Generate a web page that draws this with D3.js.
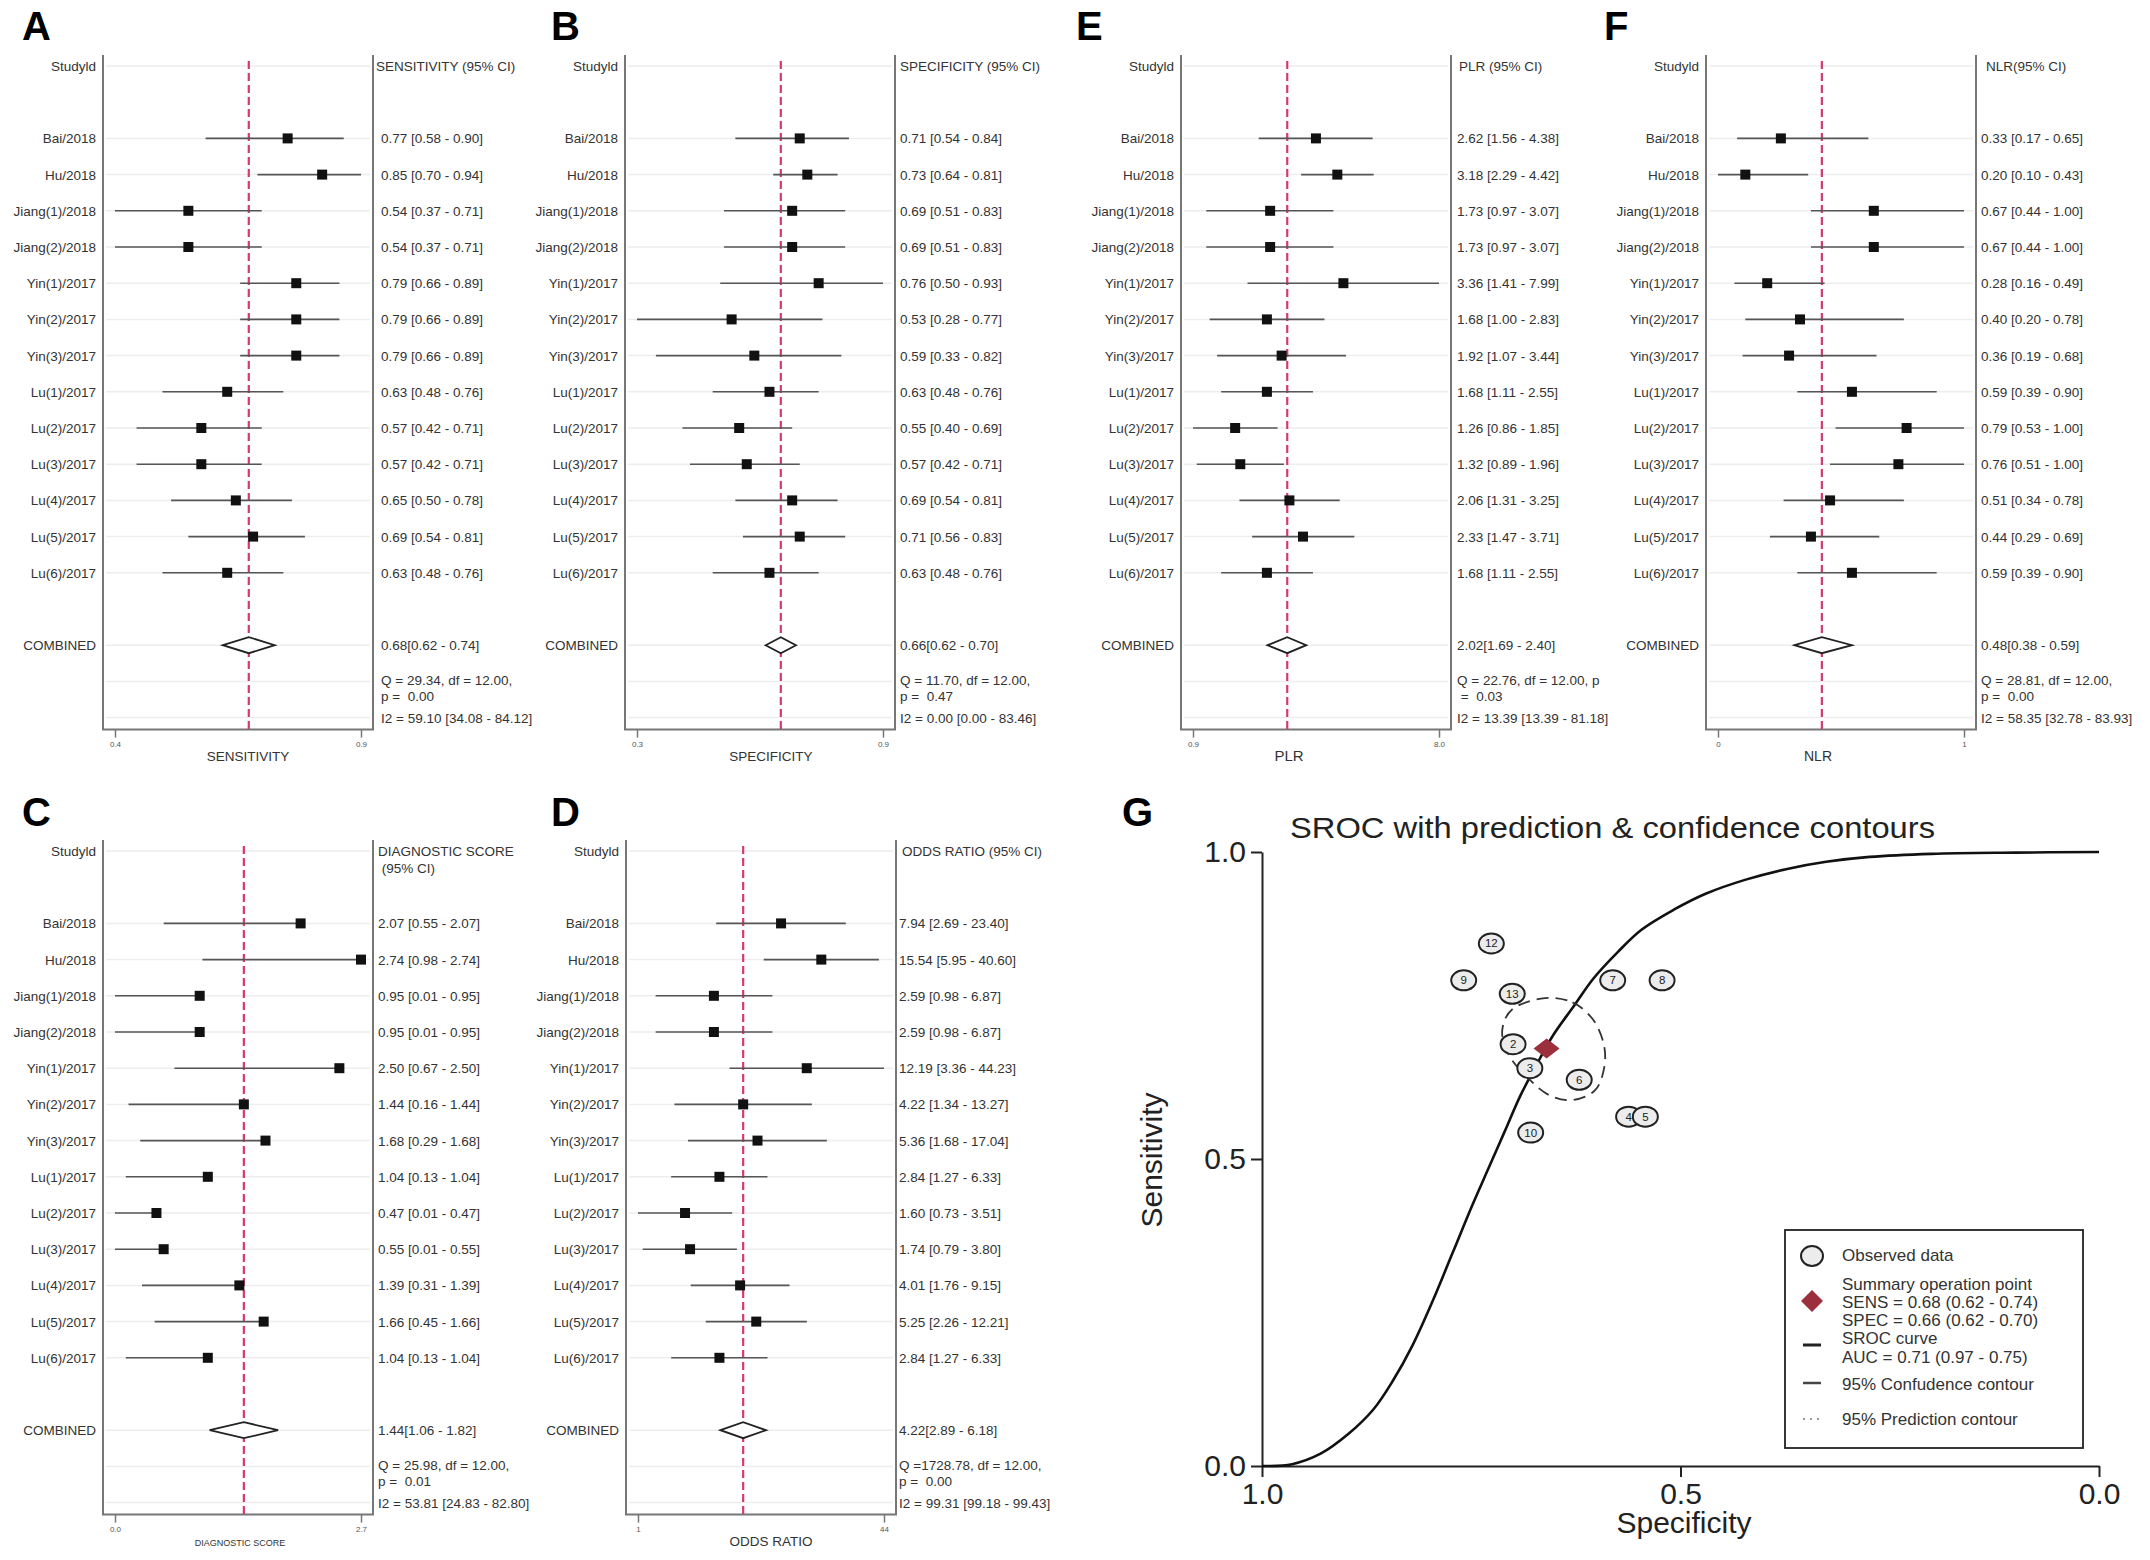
<!DOCTYPE html>
<html>
<head>
<meta charset="utf-8">
<script src="https://cdn.jsdelivr.net/npm/d3@7"></script>
<style>
body { margin: 0; background: #fff; }
svg text { font-family: Arial, "Liberation Sans", sans-serif; }
.narrow { font-family: "Liberation Sans Narrow", "Arial Narrow", Arial, sans-serif; }
</style>
</head>
<body>
<div id="chart"></div>
<script>
// study names, same order in every forest plot
const studies = ['Bai/2018', 'Hu/2018', 'Jiang(1)/2018', 'Jiang(2)/2018', 'Yin(1)/2017', 'Yin(2)/2017',
    'Yin(3)/2017', 'Lu(1)/2017', 'Lu(2)/2017', 'Lu(3)/2017', 'Lu(4)/2017', 'Lu(5)/2017', 'Lu(6)/2017']

// [estimate, lower, upper]
const sensitivity = [[0.77, 0.58, 0.90], [0.85, 0.70, 0.94], [0.54, 0.37, 0.71], [0.54, 0.37, 0.71],
    [0.79, 0.66, 0.89], [0.79, 0.66, 0.89], [0.79, 0.66, 0.89], [0.63, 0.48, 0.76], [0.57, 0.42, 0.71],
    [0.57, 0.42, 0.71], [0.65, 0.50, 0.78], [0.69, 0.54, 0.81], [0.63, 0.48, 0.76]]
const sensitivityPooled = [0.68, 0.62, 0.74]
const sensitivityStats = ['Q = 29.34, df = 12.00,', 'p =  0.00', 'I2 = 59.10 [34.08 - 84.12]']

const specificity = [[0.71, 0.54, 0.84], [0.73, 0.64, 0.81], [0.69, 0.51, 0.83], [0.69, 0.51, 0.83],
    [0.76, 0.50, 0.93], [0.53, 0.28, 0.77], [0.59, 0.33, 0.82], [0.63, 0.48, 0.76], [0.55, 0.40, 0.69],
    [0.57, 0.42, 0.71], [0.69, 0.54, 0.81], [0.71, 0.56, 0.83], [0.63, 0.48, 0.76]]
const specificityPooled = [0.66, 0.62, 0.70]
const specificityStats = ['Q = 11.70, df = 12.00,', 'p =  0.47', 'I2 = 0.00 [0.00 - 83.46]']

const plr = [[2.62, 1.56, 4.38], [3.18, 2.29, 4.42], [1.73, 0.97, 3.07], [1.73, 0.97, 3.07],
    [3.36, 1.41, 7.99], [1.68, 1.00, 2.83], [1.92, 1.07, 3.44], [1.68, 1.11, 2.55], [1.26, 0.86, 1.85],
    [1.32, 0.89, 1.96], [2.06, 1.31, 3.25], [2.33, 1.47, 3.71], [1.68, 1.11, 2.55]]
const plrPooled = [2.02, 1.69, 2.40]
const plrStats = ['Q = 22.76, df = 12.00, p', ' =  0.03', 'I2 = 13.39 [13.39 - 81.18]']

const nlr = [[0.33, 0.17, 0.65], [0.20, 0.10, 0.43], [0.67, 0.44, 1.00], [0.67, 0.44, 1.00],
    [0.28, 0.16, 0.49], [0.40, 0.20, 0.78], [0.36, 0.19, 0.68], [0.59, 0.39, 0.90], [0.79, 0.53, 1.00],
    [0.76, 0.51, 1.00], [0.51, 0.34, 0.78], [0.44, 0.29, 0.69], [0.59, 0.39, 0.90]]
const nlrPooled = [0.48, 0.38, 0.59]
const nlrStats = ['Q = 28.81, df = 12.00,', 'p =  0.00', 'I2 = 58.35 [32.78 - 83.93]']

const diagScore = [[2.07, 0.55, 2.07], [2.74, 0.98, 2.74], [0.95, 0.01, 0.95], [0.95, 0.01, 0.95],
    [2.50, 0.67, 2.50], [1.44, 0.16, 1.44], [1.68, 0.29, 1.68], [1.04, 0.13, 1.04], [0.47, 0.01, 0.47],
    [0.55, 0.01, 0.55], [1.39, 0.31, 1.39], [1.66, 0.45, 1.66], [1.04, 0.13, 1.04]]
const diagScorePooled = [1.44, 1.06, 1.82]
const diagScoreStats = ['Q = 25.98, df = 12.00,', 'p =  0.01', 'I2 = 53.81 [24.83 - 82.80]']

const oddsRatio = [[7.94, 2.69, 23.40], [15.54, 5.95, 40.60], [2.59, 0.98, 6.87], [2.59, 0.98, 6.87],
    [12.19, 3.36, 44.23], [4.22, 1.34, 13.27], [5.36, 1.68, 17.04], [2.84, 1.27, 6.33], [1.60, 0.73, 3.51],
    [1.74, 0.79, 3.80], [4.01, 1.76, 9.15], [5.25, 2.26, 12.21], [2.84, 1.27, 6.33]]
const oddsRatioPooled = [4.22, 2.89, 6.18]
const oddsRatioStats = ['Q =1728.78, df = 12.00,', 'p =  0.00', 'I2 = 99.31 [99.18 - 99.43]']

// SROC panel: curve (specificity, sensitivity)
const srocSpec = [1.0, 0.964, 0.930, 0.897, 0.867, 0.844, 0.820, 0.796, 0.772, 0.748, 0.729, 0.710, 0.691,
    0.671, 0.652, 0.628, 0.604, 0.575, 0.547, 0.508, 0.470, 0.422, 0.374, 0.326, 0.274, 0.20, 0.10, 0.0]
const srocSens = [0.0, 0.003, 0.020, 0.052, 0.092, 0.138, 0.197, 0.269, 0.348, 0.427, 0.486, 0.545, 0.604,
    0.656, 0.702, 0.748, 0.794, 0.837, 0.873, 0.906, 0.932, 0.955, 0.972, 0.984, 0.992, 0.997, 0.999, 1.0]

// observed study points
const obsLabels = ['12', '9', '13', '7', '8', '2', '3', '6', '4', '5', '10']
const obsSpec = [0.726, 0.759, 0.701, 0.581, 0.522, 0.700, 0.680, 0.621, 0.562, 0.542, 0.679]
const obsSens = [0.851, 0.791, 0.769, 0.791, 0.791, 0.687, 0.648, 0.629, 0.569, 0.569, 0.543]

// 95% confidence contour
const contourSpec = [0.662, 0.629, 0.605, 0.592, 0.591, 0.602, 0.629, 0.657, 0.683, 0.705, 0.713, 0.700]
const contourSens = [0.762, 0.755, 0.728, 0.689, 0.650, 0.612, 0.596, 0.604, 0.633, 0.669, 0.709, 0.745]

const summarySpec = 0.66, summarySens = 0.68

const legendText = [['Observed data'],
    ['Summary operation point', 'SENS = 0.68 (0.62 - 0.74)', 'SPEC = 0.66 (0.62 - 0.70)'],
    ['SROC curve', 'AUC = 0.71 (0.97 - 0.75)'],
    ['95% Confudence contour'],
    ['95% Prediction contour']]

// layout
var rowH = 36.2,
    boxW = 270,
    textColor = '#333';

var svg = d3.select('#chart')
    .append('svg')
        .attr('width', 2150)
        .attr('height', 1560);

// panel letters
var letters = [['A', 22, 40], ['B', 551, 40], ['E', 1076, 40], ['F', 1604, 40], ['C', 22, 826], ['D', 551, 826], ['G', 1122, 826]]
svg.selectAll('.letter')
    .data(letters)
    .join('text')
    .attr('x', d => d[1])
    .attr('y', d => d[2])
    .style('font-size', '40px')
    .style('font-weight', 'bold')
    .style('fill', '#000')
    .text(d => d[0]);

function fmtCI(d){
    return d[0].toFixed(2) + ' [' + d[1].toFixed(2) + ' - ' + d[2].toFixed(2) + ']'
}

function drawForest(p){

    var g = svg.append('g'),
        rowY = i => p.top + i * rowH,
        boxTop = p.top - 11,
        axisY = p.top + 18 * rowH + 12,
        lo = d3.min(p.data, d => d[1]),
        hi = d3.max(p.data, d => d[2]),
        valX = p.x0 + boxW + p.valDx;

    var x = (p.log ? d3.scaleLog() : d3.scaleLinear())
        .domain([lo, hi])
        .range([p.x0 + 12, p.x0 + boxW - 12]);

    // faint row lines
    var gridRows = [0].concat(d3.range(2, 15), [16, 17, 18])
    g.selectAll('.grid')
        .data(gridRows)
        .join('line')
        .attr('x1', p.x0 + 3)
        .attr('x2', p.x0 + boxW - 3)
        .attr('y1', d => rowY(d))
        .attr('y2', d => rowY(d))
        .style('stroke', '#ededed')
        .style('stroke-width', 1.5);

    // frame: left, right and bottom
    g.append('path')
        .attr('d', 'M' + p.x0 + ',' + boxTop + 'V' + axisY + 'H' + (p.x0 + boxW) + 'V' + boxTop)
        .style('fill', 'none')
        .style('stroke', '#777')
        .style('stroke-width', 2);

    // x axis ticks at data extremes
    var axis = g.append('g')
        .attr('transform', 'translate(0,' + axisY + ')')
        .call(d3.axisBottom(x)
                .tickValues([lo, hi])
                .tickFormat(d3.format(p.fmt))
                .tickSize(8)
                .tickPadding(4));
    axis.select('.domain').remove();
    axis.selectAll('line').style('stroke', '#777').style('stroke-width', 1.5);
    axis.selectAll('text').style('font-size', '8px').style('fill', '#555').attr('font-family', null);

    // pooled estimate line
    g.append('line')
        .attr('x1', x(p.pooled[0]))
        .attr('x2', x(p.pooled[0]))
        .attr('y1', boxTop + 6)
        .attr('y2', axisY)
        .style('stroke', '#d63a6a')
        .style('stroke-width', 2.2)
        .style('stroke-dasharray', '8,4');

    // confidence intervals
    g.selectAll('.ci')
        .data(p.data)
        .join('line')
        .attr('x1', d => x(d[1]))
        .attr('x2', d => x(d[2]))
        .attr('y1', (d, i) => rowY(i + 2))
        .attr('y2', (d, i) => rowY(i + 2))
        .style('stroke', '#555')
        .style('stroke-width', 1.6);

    // point estimates
    g.selectAll('.pt')
        .data(p.data)
        .join('rect')
        .attr('x', d => x(d[0]) - 5)
        .attr('y', (d, i) => rowY(i + 2) - 5)
        .attr('width', 10)
        .attr('height', 10)
        .style('fill', '#111');

    // pooled diamond
    var cy = rowY(16)
    g.append('path')
        .attr('d', 'M' + x(p.pooled[1]) + ',' + cy + 'L' + x(p.pooled[0]) + ',' + (cy - 8) +
              'L' + x(p.pooled[2]) + ',' + cy + 'L' + x(p.pooled[0]) + ',' + (cy + 8) + 'Z')
        .style('fill', '#fff')
        .style('stroke', '#222')
        .style('stroke-width', 1.8);

    // study labels
    var labels = ['Studyld'].concat(studies)
    g.selectAll('.lab')
        .data(labels)
        .join('text')
        .attr('x', p.x0 - 7)
        .attr('y', (d, i) => rowY(i == 0 ? 0 : i + 1) + 5)
        .attr('text-anchor', 'end')
        .style('font-size', '13.5px')
        .style('fill', textColor)
        .text(d => d);
    g.append('text')
        .attr('x', p.x0 - 7)
        .attr('y', rowY(16) + 5)
        .attr('text-anchor', 'end')
        .style('font-size', '13.5px')
        .style('fill', textColor)
        .text('COMBINED');

    // header
    g.selectAll('.head')
        .data(p.header)
        .join('text')
        .attr('x', p.x0 + boxW + p.headDx)
        .attr('y', (d, i) => rowY(0) + 5 + i * 17)
        .style('font-size', '13.5px')
        .style('fill', textColor)
        .style('white-space', 'pre')
        .text(d => d);

    // estimates as text
    g.selectAll('.val')
        .data(p.data)
        .join('text')
        .attr('x', valX)
        .attr('y', (d, i) => rowY(i + 2) + 5)
        .style('font-size', '13.5px')
        .style('fill', textColor)
        .text(d => fmtCI(d));
    g.append('text')
        .attr('x', valX)
        .attr('y', rowY(16) + 5)
        .style('font-size', '13.5px')
        .style('fill', textColor)
        .text(p.pooled[0].toFixed(2) + '[' + p.pooled[1].toFixed(2) + ' - ' + p.pooled[2].toFixed(2) + ']');

    // heterogeneity
    var statY = [rowY(17) + 4, rowY(17) + 20, rowY(18) + 5]
    g.selectAll('.stat')
        .data(p.stats)
        .join('text')
        .attr('x', valX)
        .attr('y', (d, i) => statY[i])
        .style('font-size', '13.5px')
        .style('fill', textColor)
        .style('white-space', 'pre')
        .text(d => d);

    // axis title
    g.append('text')
        .attr('x', p.x0 + p.titleDx)
        .attr('y', axisY + 31)
        .attr('text-anchor', 'middle')
        .style('font-size', p.titleSize)
        .style('fill', textColor)
        .text(p.title);
}

var topRow = 66, bottomRow = 851;

drawForest({x0: 103, top: topRow, data: sensitivity, pooled: sensitivityPooled, stats: sensitivityStats,
    header: ['SENSITIVITY (95% CI)'], title: 'SENSITIVITY', titleSize: '13.5px', fmt: '.1f', log: false,
    valDx: 8, headDx: 3, titleDx: 145})
drawForest({x0: 625, top: topRow, data: specificity, pooled: specificityPooled, stats: specificityStats,
    header: ['SPECIFICITY (95% CI)'], title: 'SPECIFICITY', titleSize: '13.5px', fmt: '.1f', log: false,
    valDx: 5, headDx: 5, titleDx: 146})
drawForest({x0: 1181, top: topRow, data: plr, pooled: plrPooled, stats: plrStats,
    header: ['PLR (95% CI)'], title: 'PLR', titleSize: '15px', fmt: '.1f', log: true,
    valDx: 6, headDx: 8, titleDx: 108})
drawForest({x0: 1706, top: topRow, data: nlr, pooled: nlrPooled, stats: nlrStats,
    header: ['NLR(95% CI)'], title: 'NLR', titleSize: '14px', fmt: '.0f', log: false,
    valDx: 5, headDx: 10, titleDx: 112})
drawForest({x0: 103, top: bottomRow, data: diagScore, pooled: diagScorePooled, stats: diagScoreStats,
    header: ['DIAGNOSTIC SCORE', ' (95% CI)'], title: 'DIAGNOSTIC SCORE', titleSize: '9px', fmt: '.1f', log: false,
    valDx: 5, headDx: 5, titleDx: 137})
drawForest({x0: 626, top: bottomRow, data: oddsRatio, pooled: oddsRatioPooled, stats: oddsRatioStats,
    header: ['ODDS RATIO (95% CI)'], title: 'ODDS RATIO', titleSize: '13.5px', fmt: '.0f', log: true,
    valDx: 3, headDx: 6, titleDx: 145})

// ---------- panel G: SROC ----------
{
var gx = d3.scaleLinear()
    .domain([1, 0])
    .range([1262, 2099]);
var gy = d3.scaleLinear()
    .domain([0, 1])
    .range([1466, 852]);

var G = svg.append('g')

// title
G.append('text')
    .attr('x', 1290)
    .attr('y', 838)
    .attr('textLength', 645)
    .attr('lengthAdjust', 'spacingAndGlyphs')
    .style('font-size', '29px')
    .style('fill', '#222')
    .text('SROC with prediction & confidence contours')

var yAx = G.append('g')
    .attr('transform', 'translate(' + gx(1) + ',0)')
    .call(d3.axisLeft(gy).tickValues([0, 0.5, 1]).tickFormat(d3.format('.1f')).tickSize(11).tickSizeOuter(0).tickPadding(5));
var xAx = G.append('g')
    .attr('transform', 'translate(0,' + gy(0) + ')')
    .call(d3.axisBottom(gx).tickValues([1, 0.5, 0]).tickFormat(d3.format('.1f')).tickSize(11).tickSizeOuter(0).tickPadding(6));
[yAx, xAx].forEach(a => {
    a.selectAll('path, line').style('stroke', '#222').style('stroke-width', 2);
    a.selectAll('text').attr('font-family', null).style('font-size', '30px').style('fill', '#222');
})

// axis titles
G.append('text')
    .attr('transform', 'translate(1162,1160) rotate(-90)')
    .attr('text-anchor', 'middle')
    .style('font-size', '30px')
    .style('fill', '#222')
    .text('Sensitivity')
G.append('text')
    .attr('x', 1684)
    .attr('y', 1533)
    .attr('text-anchor', 'middle')
    .style('font-size', '30px')
    .style('fill', '#222')
    .text('Specificity')

// SROC curve
var curvePts = srocSpec.map((s, i) => [gx(s), gy(srocSens[i])])
G.append('path')
    .attr('d', d3.line().curve(d3.curveCatmullRom)(curvePts))
    .style('fill', 'none')
    .style('stroke', '#111')
    .style('stroke-width', 2.6)

// confidence contour
var contourPts = contourSpec.map((s, i) => [gx(s), gy(contourSens[i])])
G.append('path')
    .attr('d', d3.line().curve(d3.curveCardinalClosed)(contourPts))
    .style('fill', 'none')
    .style('stroke', '#333')
    .style('stroke-width', 1.8)
    .style('stroke-dasharray', '12,7')

// observed data
var obs = G.selectAll('.obs')
    .data(obsLabels)
    .join('g')
    .attr('transform', (d, i) => 'translate(' + gx(obsSpec[i]) + ',' + gy(obsSens[i]) + ')')
obs.append('ellipse')
    .attr('rx', 12.5)
    .attr('ry', 10)
    .style('fill', '#ececec')
    .style('stroke', '#222')
    .style('stroke-width', 2)
obs.append('text')
    .attr('y', 4)
    .attr('text-anchor', 'middle')
    .style('font-size', '11.5px')
    .style('fill', '#222')
    .text(d => d)

// summary point
var sx = gx(summarySpec), sy = gy(summarySens)
G.append('path')
    .attr('d', 'M' + (sx - 13) + ',' + sy + 'L' + sx + ',' + (sy - 10) + 'L' + (sx + 13) + ',' + sy + 'L' + sx + ',' + (sy + 10) + 'Z')
    .style('fill', '#9b2f3b')

// legend
var L = G.append('g')
L.append('rect')
    .attr('x', 1785)
    .attr('y', 1230)
    .attr('width', 298)
    .attr('height', 218)
    .style('fill', '#fff')
    .style('stroke', '#222')
    .style('stroke-width', 1.8)

var symX = 1812, txtX = 1842
L.append('ellipse').attr('cx', symX).attr('cy', 1256).attr('rx', 11).attr('ry', 10)
    .style('fill', '#ececec').style('stroke', '#222').style('stroke-width', 2)
L.append('path')
    .attr('d', 'M' + (symX - 11) + ',1301L' + symX + ',1290L' + (symX + 11) + ',1301L' + symX + ',1312Z')
    .style('fill', '#9b2f3b')
L.append('line').attr('x1', symX - 9).attr('x2', symX + 9).attr('y1', 1345).attr('y2', 1345)
    .style('stroke', '#222').style('stroke-width', 3)
L.append('line').attr('x1', symX - 9).attr('x2', symX + 9).attr('y1', 1383).attr('y2', 1383)
    .style('stroke', '#444').style('stroke-width', 2.5)
L.append('line').attr('x1', symX - 9).attr('x2', symX + 9).attr('y1', 1419).attr('y2', 1419)
    .style('stroke', '#999').style('stroke-width', 2).style('stroke-dasharray', '2,5')

var lineY = [[1261], [1290, 1308, 1326], [1344, 1363], [1390], [1425]]
legendText.forEach((lines, k) => {
    L.selectAll('.lt' + k)
        .data(lines)
        .join('text')
        .attr('class', 'narrow')
        .attr('x', txtX)
        .attr('y', (d, i) => lineY[k][i])
        .style('font-size', '17px')
        .style('fill', '#333')
        .text(d => d)
})
}
</script>
</body>
</html>
